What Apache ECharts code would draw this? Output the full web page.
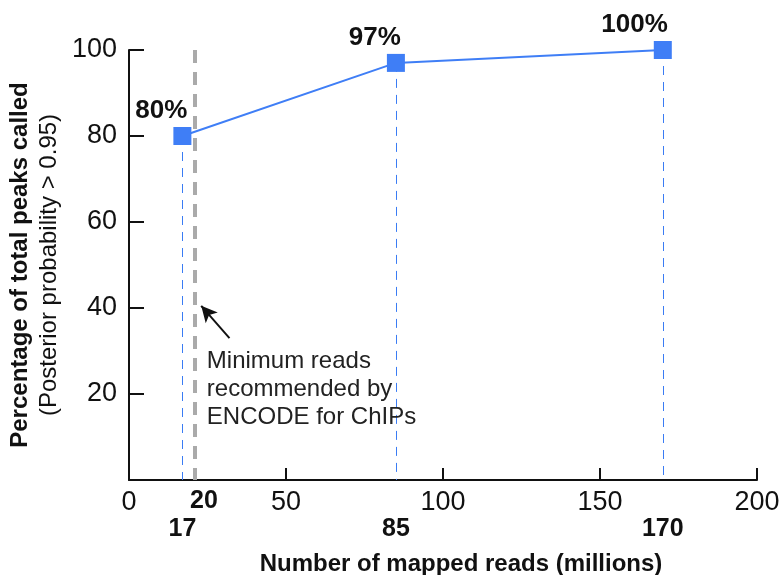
<!DOCTYPE html>
<html>
<head>
<meta charset="utf-8">
<script src="https://cdn.jsdelivr.net/npm/echarts@6/dist/echarts.min.js"></script>
<style>
  html, body { margin: 0; padding: 0; background: #fff; }
  #chart { width: 781px; height: 575px; }
</style>
</head>
<body>
<div id="chart"></div>
<script>
// reads (millions) vs percentage of peaks called
var readsMillions = [17, 85, 170];
var pctCalled = [80, 97, 100];
var pctLabels = ['80%', '97%', '100%'];

// x ticks 0..200 step 50, y ticks 0..100 step 20
var xRange = [0, 200, 50];
var yRange = [0, 100, 20];

// ENCODE guide line + note
var guideX = 21;
var guideLabel = '20';
var arrowFrom = [32, 33];
var arrowTo = [23, 40.5];
var noteAt = [23.2, 21];
var noteLines = ['Minimum reads', 'recommended by', 'ENCODE for ChIPs'];

var FONT = '"Liberation Sans", Arial, sans-serif';
var BLUE = '#3f7ef6';

var points = readsMillions.map(function (x, i) { return [x, pctCalled[i]]; });

var dropLines = points.map(function (p) {
  return [{ coord: [p[0], p[1]] }, { coord: [p[0], 0] }];
});

var chart = echarts.init(document.getElementById('chart'));

var option = {
  animation: false,
  grid: { left: 129, right: 24, top: 50, bottom: 95, containLabel: false, outerBoundsMode: 'none' },
  xAxis: [
    {
      type: 'value',
      min: xRange[0], max: xRange[1], interval: xRange[2],
      name: 'Number of mapped reads (millions)',
      nameLocation: 'middle',
      nameGap: 72,
      nameTextStyle: {
        fontFamily: FONT, fontSize: 24, fontWeight: 'bold', color: '#111',
        padding: [0, 0, 0, 36]
      },
      axisLine: { lineStyle: { color: '#111', width: 2 } },
      axisTick: { inside: true, length: 12, lineStyle: { color: '#111', width: 2 } },
      axisLabel: { fontFamily: FONT, fontSize: 27, color: '#111', margin: 9, showMinLabel: true, showMaxLabel: true },
      splitLine: { show: false }
    },
    {
      type: 'value',
      min: xRange[0], max: xRange[1],
      position: 'bottom',
      axisLine: { show: false },
      axisTick: { show: false },
      splitLine: { show: false },
      axisLabel: {
        customValues: readsMillions,
        fontFamily: FONT, fontSize: 25, fontWeight: 'bold', color: '#111', margin: 37
      }
    },
    {
      type: 'value',
      min: xRange[0], max: xRange[1],
      position: 'bottom',
      axisLine: { show: false },
      axisTick: { show: false },
      splitLine: { show: false },
      axisLabel: {
        customValues: [guideX],
        formatter: function () { return guideLabel; },
        padding: [0, 0, 0, 18],
        fontFamily: FONT, fontSize: 25, fontWeight: 'bold', color: '#111', margin: 9
      }
    }
  ],
  yAxis: {
    type: 'value',
    min: yRange[0], max: yRange[1], interval: yRange[2],
    name: '{a|Percentage of total peaks called}\n{b|(Posterior probability > 0.95)}',
    nameLocation: 'middle',
    nameRotate: 90,
    nameGap: 61,
    nameTextStyle: {
      rich: {
        a: { fontFamily: FONT, fontSize: 24, fontWeight: 'bold', color: '#111', lineHeight: 29 },
        b: { fontFamily: FONT, fontSize: 24, color: '#111', lineHeight: 29 }
      }
    },
    axisLine: { show: true, lineStyle: { color: '#111', width: 2 } },
    axisTick: { inside: true, length: 15, lineStyle: { color: '#111', width: 2 } },
    axisLabel: {
      fontFamily: FONT, fontSize: 27, color: '#111', margin: 12,
      formatter: function (v) { return v === 0 ? '' : v; }
    },
    splitLine: { show: false }
  },
  series: [
    {
      // guide line + arrow + note
      type: 'line',
      data: [],
      silent: true,
      markLine: {
        silent: true,
        symbol: 'none',
        label: { show: false },
        data: [
          [
            { coord: [guideX, yRange[1]], lineStyle: { color: '#aaaaaa', width: 4, type: [13, 9] } },
            { coord: [guideX, yRange[0]] }
          ],
          [
            { coord: arrowFrom, symbol: 'none', lineStyle: { color: '#111', width: 2, type: 'solid' } },
            { coord: arrowTo, symbol: 'arrow', symbolSize: [12, 16] }
          ]
        ]
      },
      markPoint: {
        silent: true,
        symbol: 'circle',
        symbolSize: 0,
        itemStyle: { color: 'transparent' },
        label: {
          show: true,
          position: 'right',
          distance: 5,
          align: 'left',
          fontFamily: FONT,
          fontSize: 24,
          lineHeight: 28,
          color: '#222',
          formatter: function () { return noteLines.join('\n'); }
        },
        data: [{ coord: noteAt }]
      }
    },
    {
      type: 'line',
      data: points,
      z: 5,
      symbol: 'rect',
      symbolSize: 18,
      lineStyle: { color: BLUE, width: 2 },
      itemStyle: { color: BLUE },
      label: {
        show: true,
        position: 'top',
        distance: 3,
        align: 'right',
        offset: [5, 0],
        fontFamily: FONT,
        fontSize: 26,
        fontWeight: 'bold',
        color: '#111',
        formatter: function (p) { return pctLabels[p.dataIndex]; }
      },
      markLine: {
        silent: true,
        symbol: 'none',
        z: 1,
        label: { show: false },
        lineStyle: { color: '#3a7cf4', width: 1, type: [9, 7] },
        data: dropLines
      }
    }
  ]
};

chart.setOption(option);
</script>
</body>
</html>
